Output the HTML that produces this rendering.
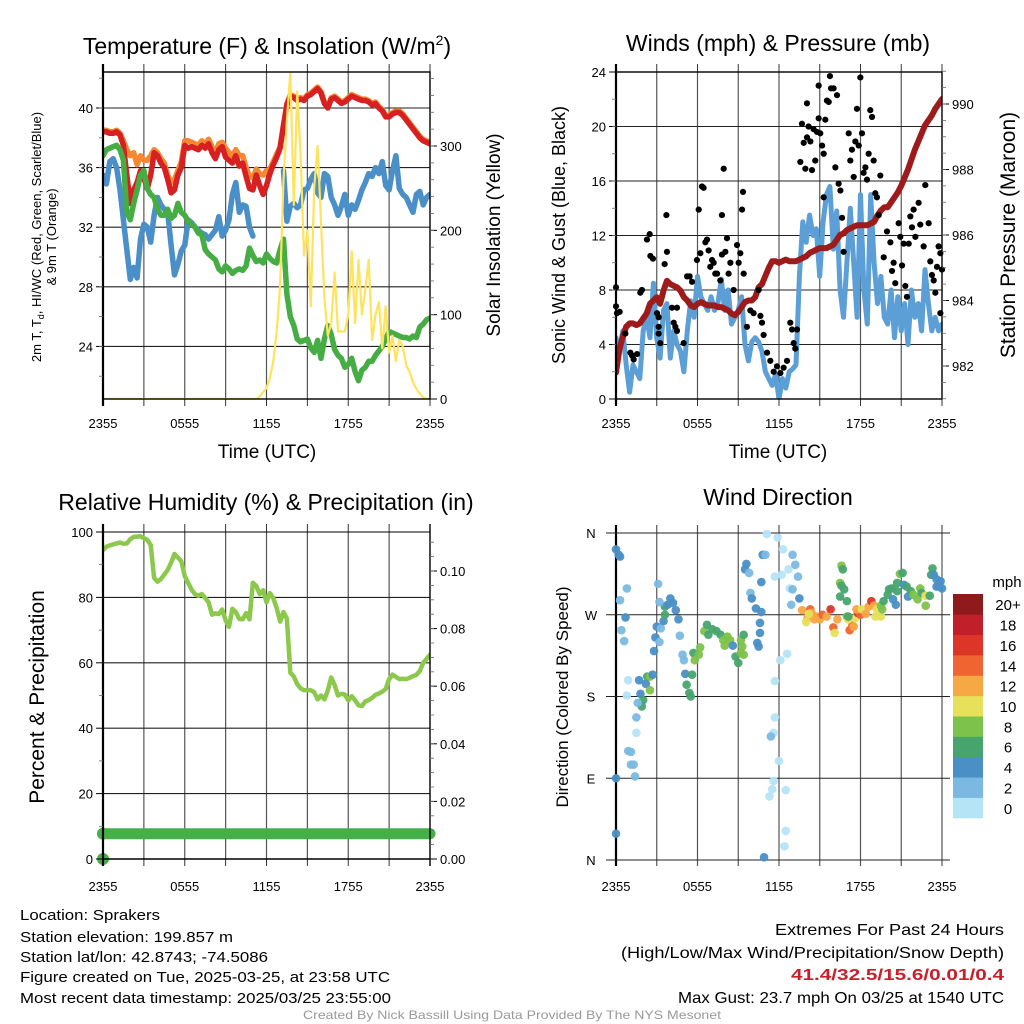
<!DOCTYPE html>
<html><head><meta charset="utf-8"><title>Mesonet Station Meteogram</title>
<style>
html,body{margin:0;padding:0;background:#fff;}
svg{display:block;font-family:"Liberation Sans",Arial,sans-serif;}
</style></head>
<body>
<svg id="fig" xmlns="http://www.w3.org/2000/svg" width="1024" height="1024" viewBox="0 0 1024 1024">
<defs>
<clipPath id="c1"><rect x="103" y="72" width="327" height="327"/></clipPath>
<clipPath id="c2"><rect x="616" y="72" width="326" height="327"/></clipPath>
<clipPath id="c3"><rect x="103" y="532" width="327" height="327"/></clipPath>
<clipPath id="c4"><rect x="610" y="527" width="338" height="338"/></clipPath>
</defs>
<rect width="1024" height="1024" fill="#fff"/>
<g id="root"></g>
<text x="267" y="54" font-size="23" text-anchor="middle">Temperature (F) &amp; Insolation (W/m<tspan dy="-9" font-size="14">2</tspan><tspan dy="9">)</tspan></text>
<text x="778" y="51" font-size="23" text-anchor="middle">Winds (mph) &amp; Pressure (mb)</text>
<text x="266" y="510" font-size="23" text-anchor="middle">Relative Humidity (%) &amp; Precipitation (in)</text>
<text x="778" y="505" font-size="23" text-anchor="middle">Wind Direction</text>
<text x="267" y="458" font-size="19" text-anchor="middle">Time (UTC)</text>
<text x="778" y="458" font-size="19" text-anchor="middle">Time (UTC)</text>
<text transform="translate(41,237) rotate(-90)" font-size="13" text-anchor="middle">2m T, T<tspan font-size="9" dy="3">d</tspan><tspan dy="-3">, HI/WC (Red, Green, Scarlet/Blue)</tspan></text>
<text transform="translate(56,237) rotate(-90)" font-size="13" text-anchor="middle">&amp; 9m T (Orange)</text>
<text transform="translate(500,235) rotate(-90)" font-size="19" text-anchor="middle">Solar Insolation (Yellow)</text>
<text transform="translate(565,235) rotate(-90)" font-size="18" text-anchor="middle">Sonic Wind &amp; Gust (Blue, Black)</text>
<text transform="translate(1015,235) rotate(-90)" font-size="21" text-anchor="middle">Station Pressure (Maroon)</text>
<text transform="translate(44,697) rotate(-90)" font-size="21" text-anchor="middle">Percent &amp; Precipitation</text>
<text transform="translate(568,697) rotate(-90)" font-size="17" text-anchor="middle">Direction (Colored By Speed)</text>
<g font-size="15">
<text x="20" y="920" textLength="140" lengthAdjust="spacingAndGlyphs">Location: Sprakers</text>
<text x="20" y="942" textLength="213" lengthAdjust="spacingAndGlyphs">Station elevation: 199.857 m</text>
<text x="20" y="962" textLength="248" lengthAdjust="spacingAndGlyphs">Station lat/lon: 42.8743; -74.5086</text>
<text x="20" y="982" textLength="370" lengthAdjust="spacingAndGlyphs">Figure created on Tue, 2025-03-25, at 23:58 UTC</text>
<text x="20" y="1003" textLength="371" lengthAdjust="spacingAndGlyphs">Most recent data timestamp: 2025/03/25 23:55:00</text>
</g>
<g font-size="16">
<text x="775" y="935" textLength="229" lengthAdjust="spacingAndGlyphs">Extremes For Past 24 Hours</text>
<text x="621" y="958" textLength="383" lengthAdjust="spacingAndGlyphs">(High/Low/Max Wind/Precipitation/Snow Depth)</text>
<text x="791" y="980" textLength="213" lengthAdjust="spacingAndGlyphs" fill="#c8202a" font-weight="bold">41.4/32.5/15.6/0.01/0.4</text>
<text x="678" y="1003" textLength="326" lengthAdjust="spacingAndGlyphs">Max Gust: 23.7 mph On 03/25 at 1540 UTC</text>
</g>
<text x="512" y="1019" font-size="12" fill="#999" text-anchor="middle" textLength="418" lengthAdjust="spacingAndGlyphs">Created By Nick Bassill Using Data Provided By The NYS Mesonet</text>
</svg>
<script>
// ---------- data ----------
const timeLabels = ["2355","0555","1155","1755","2355"];
const tempTicks = [24,28,32,36,40];
const solarTicks = [0,100,200,300];
const windTicks = [0,4,8,12,16,20,24];
const presTicks = [982,984,986,988,990];
const rhTicks = [0,20,40,60,80,100];
const precipTicks = [0.00,0.02,0.04,0.06,0.08,0.10];
const dirLabels = ["N","E","S","W","N"];
const dirTicks = [0,90,180,270,360];
const speedBins = ["0","2","4","6","8","10","12","14","16","18","20+"];
const speedColors = ["#b5e4f6","#7bb9e2","#4a8fc6","#48a46f","#7dc24b","#e7e05a","#f6a845","#ef6430","#dd3528","#c11f2a","#8f1a1c"];

// uniform samples every 0.25 h
const temp2m = [38.4,38.4,38.3,38.3,38.4,38.2,37.5,35.5,33.6,34.5,35,35.8,35.3,34.6,35.5,37,36.8,36.3,36,35.2,34.3,34.5,35.5,36,37.5,37.3,37.4,37.3,37.2,37.5,37.3,37.6,37.0,36.6,37.2,37.4,36.7,36.5,36.3,36.8,36.1,36.3,35.4,34.6,34.5,35.5,34.8,34.2,34.8,35.6,36.2,36.7,37.3,38.8,40.2,40.8,40.7,40.5,40.6,40.5,40.8,40.9,41.1,41.3,41.0,40.3,40.0,40.6,40.7,40.5,40.3,40.4,40.6,40.8,40.7,40.6,40.5,40.5,40.4,40.2,40.3,40.0,39.8,39.4,39.4,39.6,39.7,39.7,39.5,39.2,38.9,38.6,38.3,38.0,37.8,37.7,37.6];
const temp9m = [38.5,38.5,38.4,38.4,38.5,38.3,37.8,37.2,36.8,37.0,36.2,36.8,36.5,36.5,36.8,37.2,37.0,36.6,36.3,35.5,35.0,35.2,35.8,36.4,37.8,37.8,37.7,37.6,37.5,37.8,37.6,37.9,37.4,37.0,37.6,37.7,37.3,37.0,36.8,37.2,36.8,36.8,36.0,35.4,35.3,35.9,35.6,35.5,35.8,35.9,36.4,36.9,37.4,38.9,40.3,40.9,40.8,40.6,40.7,40.6,40.9,41.0,41.2,41.4,41.1,40.4,40.1,40.7,40.8,40.6,40.4,40.5,40.7,40.9,40.8,40.7,40.6,40.6,40.5,40.3,40.4,40.1,39.9,39.5,39.5,39.7,39.8,39.8,39.6,39.3,39.0,38.7,38.4,38.1,37.9,37.8,37.7];
const hiwc = [35.5,34.9,36.4,36.6,36.0,34.5,32.5,30.5,28.5,29.3,28.6,31.2,32.2,32.0,31.0,32.8,34.0,33.5,33.2,33.0,30.8,28.8,29.5,30.4,30.8,32.5,32.3,32.0,31.8,31.6,31.5,31.2,31.5,31.8,32.7,31.4,31.8,32.5,34.2,35.0,33.0,33.5,33.4,32.0,31.4,null,null,null,null,null,null,null,null,35.8,32.4,33.4,33.6,33.3,33.5,34.5,34.6,35.2,35.6,34.3,34.0,35.6,35.4,34.0,33.5,32.8,33.4,34.2,32.8,33.5,33.2,33.8,34.5,35.0,35.6,35.4,36.0,35.6,36.4,34.8,34.5,35.8,36.8,34.6,34.2,34.0,33.5,33.0,34.2,34.4,33.5,34.0,34.2];
const dewpoint = [36.8,37.2,37.3,37.4,37.5,37.2,36.5,33.0,32.5,33.6,34.5,35.5,35.8,34.6,34.2,34.0,33.2,32.8,32.8,33.2,32.6,32.8,33.6,33.0,32.8,32.4,32.2,32.0,31.6,31.5,30.5,30.2,30.0,29.8,29.2,29.0,29.4,29.2,28.9,29.1,29.2,29.1,29.4,30.6,30.1,29.7,29.8,29.6,30.2,29.9,29.7,29.6,30.5,31.2,27.5,26.0,25.4,24.5,24.3,24.4,24.5,23.9,23.6,24.4,23.2,24.5,25.4,24.8,23.8,23.4,23.2,22.6,22.8,23.2,22.3,21.7,22.4,22.6,23.0,23.0,23.4,23.7,24.0,24.5,25.0,24.9,24.8,24.7,24.6,24.6,24.5,24.7,24.6,25.3,25.5,25.8,25.9];
const solar = [0,0,0,0,0,0,0,0,0,0,0,0,0,0,0,0,0,0,0,0,0,0,0,0,0,0,0,0,0,0,0,0,0,0,0,0,0,0,0,0,0,0,0,0,0,0,3,8,13,25,45,80,135,260,330,387,230,365,290,170,200,110,250,300,210,120,75,90,150,80,80,80,100,175,90,165,100,130,165,70,100,115,60,110,55,75,45,70,62,40,32,20,12,6,2,0,0];
const windSpeed = [4.5,3.5,5,2.5,0.5,2.5,2,1.5,5,6,4.5,8.5,4.5,3,6.5,7,3,5,4,3.5,2,5,7.2,6,9,7.5,7,6.5,7.5,6.5,7,8.8,6.5,8,5.5,6,6.5,7.5,4,2.8,4.2,4.5,4.2,3.5,2,1.5,1,1.8,0,1.5,0.8,2,2.2,2.5,9,13,11.5,13.5,12,12.5,9,13,15,15.6,11,13.8,8,6,10,14,10,6,15,8,5.5,15,10,7,9,6,5.5,8,4.5,7.5,5,7,4,8,6,7,5,9.5,7,5,6,5,5.5];
const pressure = [981.8,982.5,982.9,983.2,983.3,983.3,983.25,983.3,983.45,983.6,983.9,984.0,984.1,983.9,984.3,984.6,984.5,984.45,984.4,984.3,984.1,984.0,983.85,983.8,983.9,983.95,983.9,983.85,983.85,983.85,983.8,983.8,983.75,983.7,983.6,983.55,983.65,983.8,983.95,984.0,984.0,984.1,984.4,984.5,984.75,985.0,985.2,985.2,985.15,985.2,985.25,985.2,985.2,985.2,985.25,985.3,985.35,985.45,985.5,985.55,985.6,985.6,985.6,985.65,985.7,985.85,986.0,986.05,986.15,986.2,986.25,986.3,986.3,986.3,986.3,986.35,986.4,986.6,986.75,986.85,986.85,987.0,987.15,987.3,987.5,987.75,988.0,988.3,988.6,988.85,989.1,989.35,989.5,989.65,989.85,990.0,990.15];
const rh = [94.5,95.5,95.9,96.2,96.5,96.8,96.4,96.5,97.8,98.5,98.6,98.7,98.1,97.6,96,86,84.8,85.6,87,88.4,90.6,93.3,92.2,91,86.5,84.4,82.4,81,80.5,81,79.8,78.5,74.7,75.1,74.9,76.3,73,71,76.5,75.5,73.4,73.3,75.2,73.3,84.5,83.5,81,82.2,78.5,81.3,79.8,76.7,72.6,75.5,73.5,57,55.8,53.5,52.2,51.6,51.7,51.6,51,48.8,50,48.8,51.5,55.5,53.2,50,50.5,50.3,48.5,49.8,48.5,47,46.8,48.2,48.6,49.3,50.2,50.6,51.2,52,55,56.4,55.7,55,55.1,55,55.4,55.9,56.3,57.5,60,61.2,62.5];
const precip = [0,0.0088,0.0088,0.0088,0.0088,0.0088,0.0088,0.0088,0.0088,0.0088,0.0088,0.0088,0.0088,0.0088,0.0088,0.0088,0.0088,0.0088,0.0088,0.0088,0.0088,0.0088,0.0088,0.0088,0.0088,0.0088,0.0088,0.0088,0.0088,0.0088,0.0088,0.0088,0.0088,0.0088,0.0088,0.0088,0.0088,0.0088,0.0088,0.0088,0.0088,0.0088,0.0088,0.0088,0.0088,0.0088,0.0088,0.0088,0.0088,0.0088,0.0088,0.0088,0.0088,0.0088,0.0088,0.0088,0.0088,0.0088,0.0088,0.0088,0.0088,0.0088,0.0088,0.0088,0.0088,0.0088,0.0088,0.0088,0.0088,0.0088,0.0088,0.0088,0.0088,0.0088,0.0088,0.0088,0.0088,0.0088,0.0088,0.0088,0.0088,0.0088,0.0088,0.0088,0.0088,0.0088,0.0088,0.0088,0.0088,0.0088,0.0088,0.0088,0.0088,0.0088,0.0088,0.0088,0.0088];

const gustHours = [0,0,0.07,0.27,0.69,1.06,1.18,1.3,1.55,1.79,1.91,2.28,2.48,2.53,2.72,3.02,3.14,3.14,3.14,3.26,3.58,3.71,3.75,4.12,4.25,4.37,4.49,4.49,4.98,5.23,5.42,5.6,5.96,6.09,6.21,6.33,6.45,6.58,6.7,6.82,6.94,7.07,7.19,7.31,7.44,7.68,7.8,7.93,7.8,8.05,8.17,8.29,8.42,8.66,8.91,9.03,9.15,9.28,9.35,9.4,9.64,9.89,10.13,10.5,10.63,10.75,10.87,11.12,11.36,11.61,11.85,12.1,12.34,12.59,12.83,12.96,13.08,13.2,13.33,13.57,13.69,13.82,13.94,14.06,14.06,14.18,14.31,14.43,14.55,14.67,14.8,14.92,14.92,15.04,15.17,15.29,15.29,15.41,15.53,15.66,15.75,15.83,16.02,16.15,16.27,16.39,16.52,16.64,16.76,17.13,17.25,17.37,17.5,17.62,17.74,17.87,17.99,18.11,18.23,18.36,18.48,18.6,18.72,18.85,18.97,19.09,19.21,19.34,19.46,19.71,19.95,20.2,20.32,20.44,20.56,20.81,20.93,21.06,21.18,21.3,21.42,21.55,21.67,21.79,21.91,22.04,22.28,22.4,22.65,22.77,23.02,23.14,23.26,23.39,23.51,23.63,23.75,23.88,24.0,23.88];
const gustValues = [8.2,6.8,6.3,6.4,4.8,3.4,3.2,2.9,3.3,7.8,8,11.7,12.1,10.5,10.3,6.3,6.0,5.3,4.8,4.1,9.9,13.5,10.8,6.7,5.6,5.3,6.7,5.0,4.1,9.0,9.0,8.6,10.2,13.9,10.7,15.6,15.5,11.5,11.7,10.9,9.7,10.2,10.0,9.2,9.2,8.7,13.5,16.9,10.6,10.8,11.8,9.2,10.0,8.0,11.3,10.0,10.7,13.9,15.2,9.2,5.3,6.5,6.3,8.0,6.1,5.6,4.7,3.4,2.8,2.0,2.4,1.9,2.3,2.8,5.6,5.1,4.1,3.7,5.1,17.4,20.2,18.8,16.9,21.7,19.2,20.0,18.9,16.8,19.8,17.5,19.6,23.0,20.6,19.5,18.6,18.0,14.8,20.5,21.9,21.8,23.7,22.8,22.8,17.0,22.3,15.8,15.3,13.3,10.8,19.5,17.5,18.3,16.3,18.9,21.3,18.6,23.6,19.5,16.6,17.0,16.1,18.0,21.2,20.7,17.5,15.1,14.8,13.5,16.4,10.4,12.3,11.5,9.4,10.0,8.5,12.9,11.9,9.8,11.4,8.3,7.5,11.4,13.4,12.6,13.9,11.9,14.4,12.8,11.2,15.7,12.9,10.1,9.1,8.7,7.8,9.7,11.2,10.7,9.5,6.3];

const dirHours = [0,0.2,0.3,0.8,0.3,0.7,0.4,0.6,0.9,0.8,1.7,1.8,2.2,2.3,2.5,2.5,2.0,1.9,1.6,1.5,1.5,0.9,1.1,1.1,1.3,1.4,0,0,2.7,2.8,2.9,3.0,3.2,3.3,3.5,3.6,3.6,3.8,4.0,4.2,4.4,4.6,3.1,3.2,4.7,4.9,5.0,5.1,5.6,5.2,5.4,5.5,5.7,5.8,6.1,6.2,6.5,6.7,6.8,7.1,7.4,7.7,7.9,8.0,8.2,8.4,8.6,8.8,9.0,9.2,9.3,9.4,9.2,9.4,9.6,9.5,9.8,9.9,10.0,10.3,10.4,10.5,10.6,10.6,10.7,10.7,10.8,11.0,11.1,11.7,11.9,12.2,12.3,12.7,12.8,12.9,13.0,13.0,13.2,13.4,13.5,12.1,12.6,11.7,11.7,11.6,11.4,12.0,11.6,11.5,11.3,12.5,12.5,12.4,10.9,13.7,14.1,14.3,14.4,14.6,14.8,15.0,15.2,15.5,15.8,16.0,16.1,16.3,14.0,14.2,17.2,17.4,17.5,17.6,17.8,18.0,17.7,18.1,18.4,18.6,18.8,19.0,19.1,19.5,17.0,17.1,19.2,16.6,16.7,16.5,16.6,16.8,16.5,17.0,17.1,19.5,19.6,19.7,20.0,20.1,20.3,20.6,20.4,20.7,20.7,20.9,21.1,21.2,21.4,21.5,21.7,21.9,22.2,22.4,22.5,22.8,22.8,23.1,23.3,23.2,23.4,23.6,23.8,23.9,24.0,23.6];
const dirDegrees = [342,336,334,299,286,267,253,241,198,181,198,183,194,202,202,187,176,169,173,157,140,120,119,105,105,92,90,29,204,230,245,257,240,255,263,279,270,281,288,283,275,265,304,284,247,226,220,205,204,193,184,180,228,220,226,234,252,259,248,254,252,248,242,236,246,242,236,224,217,228,235,226,242,248,326,320,316,294,288,277,239,235,250,261,273,306,336,336,359,312,355,314,342,320,299,281,298,336,325,312,288,220,227,197,157,140,136,109,87,78,70,77,32,15,3,275,266,276,272,265,268,265,270,268,276,256,250,265,262,271,253,258,257,266,272,270,276,276,271,279,285,280,268,268,268,265,276,324,320,305,302,298,290,285,268,280,276,285,292,298,299,281,287,296,305,315,316,303,301,290,296,292,287,299,294,291,280,291,321,314,314,309,301,307,299,301];
const dirSpeeds = [4.5,4.5,4.5,3,3,4.5,3,3,1,1,4.5,4.5,4.5,6.5,8.5,8.5,6.5,6.5,3,3,1,3,3,3,3,3,4.5,4.5,4.5,4.5,4.5,4.5,3,3,4.5,6.5,6.5,4.5,4.5,4.5,4.5,4.5,3,3,3,3,3,4.5,6.5,6.5,6.5,6.5,6.5,8.5,8.5,8.5,8.5,6.5,6.5,6.5,6.5,6.5,8.5,8.5,8.5,8.5,4.5,6.5,6.5,8.5,8.5,8.5,8.5,6.5,4.5,4.5,3,3,4.5,4.5,4.5,4.5,4.5,4.5,4.5,4.5,4.5,3,1,1,1,1,1,1,1,3,3,3,3,3,4.5,1,1,1,1,1,3,1,1,1,1,1,1,1,4.5,12.5,12.5,14.5,12.5,12.5,12.5,12.5,14.5,12.5,16,14.5,10.5,12.5,10.5,10.5,14.5,14.5,12.5,10.5,16,14.5,12.5,10.5,12.5,12.5,16,12.5,10.5,10.5,8.5,10.5,10.5,8.5,6.5,8.5,6.5,6.5,6.5,6.5,6.5,8.5,8.5,6.5,6.5,6.5,6.5,4.5,4.5,6.5,6.5,8.5,6.5,4.5,6.5,4.5,6.5,8.5,8.5,8.5,6.5,10.5,8.5,6.5,6.5,6.5,4.5,4.5,4.5,4.5,4.5,4.5];

// ---------- helpers ----------
const NS = "http://www.w3.org/2000/svg";
const root = document.getElementById('root');
function mk(tag, attrs, parent){
  const e = document.createElementNS(NS, tag);
  for (const k in attrs) e.setAttribute(k, attrs[k]);
  (parent||root).appendChild(e);
  return e;
}
const hours = temp2m.map((_, i) => i * 0.25);

// axis functions
const x1 = h => 103 + h * 13.625;
const x2 = h => 616 + h * 13.583;
const yTemp = v => 108 + (40 - v) * 14.9;
const ySolar = w => 399 - w * 0.8433;
const yWind = v => 399 - v * 13.625;
const yPres = p => 366 - (p - 982) * 32.75;
const yRH = v => 859 - v * 3.27;
const yPrecip = v => 859 - v * 2880;
const yDir = d => 860 - d * 0.9083;

function frame(name){
  const g = mk('g', {});
  
  
  return g;
}

function pathFrom(xs, ys, xf, yf){
  let d = '', pen = false;
  for (let i = 0; i < xs.length; i++){
    if (ys[i] === null){ pen = false; continue; }
    d += (pen ? 'L' : 'M') + xf(xs[i]).toFixed(1) + ',' + yf(ys[i]).toFixed(1);
    pen = true;
  }
  return d;
}

function drawGrid(g, left, right, top, bottom, xf, yTicksPx){
  for (let h = 3; h < 24; h += 3){
    const l = mk('line', {x1: xf(h), x2: xf(h), y1: top, y2: bottom, stroke: '#555', 'stroke-width': 1.2}, g);
    
    
  }
  for (let h = 0; h <= 24; h += 3){
    mk('line', {x1: xf(h), x2: xf(h), y1: top - 8, y2: top, stroke: '#333', 'stroke-width': 1}, g);
    mk('line', {x1: xf(h), x2: xf(h), y1: bottom, y2: bottom + 7, stroke: '#333', 'stroke-width': 1}, g);
  }
  yTicksPx.forEach(py => {
    const l = mk('line', {x1: left, x2: right, y1: py, y2: py, stroke: '#222', 'stroke-width': 1.1}, g);
    
    
  });
}
function drawBorder(g, left, right, top, bottom){
  mk('rect', {x: left, y: top, width: right - left, height: bottom - top, fill: 'none', stroke: '#000', 'stroke-width': 1.4}, g);
  mk('line', {x1: left, x2: left, y1: top - 8, y2: bottom + 7, stroke: '#000', 'stroke-width': 2.2}, g);
}
function xLabels(g, xf, y){
  timeLabels.forEach((t, i) => {
    const tx = mk('text', {x: xf(i * 6), y: y, 'font-size': 13, 'text-anchor': 'middle'}, g);
    tx.textContent = t;
    
    
  });
}
function yAxisTicks(g, vals, yf, xEdge, side, fmt, fs, minorVals){
  vals.forEach(v => {
    const py = yf(v);
    const dir = side === 'left' ? -1 : 1;
    mk('line', {x1: xEdge, x2: xEdge + dir * 7, y1: py, y2: py, stroke: '#000', 'stroke-width': 1}, g);
    const tx = mk('text', {x: xEdge + dir * 10, y: py + 5, 'font-size': fs, 'text-anchor': side === 'left' ? 'end' : 'start'}, g);
    tx.textContent = fmt(v);
    
    
  });
  (minorVals || []).forEach(v => {
    const py = yf(v);
    const dir = side === 'left' ? -1 : 1;
    mk('line', {x1: xEdge, x2: xEdge + dir * 4, y1: py, y2: py, stroke: '#666', 'stroke-width': 0.8}, g);
  });
}
function range(a, b, s){ const r = []; for (let v = a; v <= b + 1e-9; v += s) r.push(+v.toFixed(4)); return r; }

// ---------- Panel 1: temperature ----------
const g1 = frame('temperature-panel');
drawGrid(g1, 103, 430, 72, 399, x1, tempTicks.map(yTemp));
const s1 = mk('g', {'clip-path': 'url(#c1)'}, g1);
[[temp9m, '#f58833', 'nine-meter-temperature-line'], [hiwc, '#4a8fc8', 'heat-index-wind-chill-line'], [temp2m, '#d62022', 'two-meter-temperature-line'], [dewpoint, '#45ad44', 'dewpoint-line']].forEach(sr => {
  const p = mk('path', {d: pathFrom(hours, sr[0], x1, yTemp), fill: 'none', stroke: sr[1], 'stroke-width': 5.5, 'stroke-linejoin': 'round', 'stroke-linecap': 'round'}, s1);
  
  
});
const solarLine = mk('path', {d: pathFrom(hours, solar, x1, ySolar), fill: 'none', stroke: '#ffe35c', 'stroke-width': 2.2, 'stroke-linejoin': 'round'}, s1);


drawBorder(g1, 103, 430, 72, 399);
yAxisTicks(g1, tempTicks, yTemp, 103, 'left', v => v, 13, range(22, 42, 2));
yAxisTicks(g1, solarTicks, ySolar, 430, 'right', v => v, 13, range(20, 380, 20));
xLabels(g1, x1, 428);

// ---------- Panel 2: winds & pressure ----------
const g2 = frame('wind-panel');
drawGrid(g2, 616, 942, 72, 399, x2, windTicks.slice(1, -1).map(yWind));
const s2 = mk('g', {'clip-path': 'url(#c2)'}, g2);
const wl = mk('path', {d: pathFrom(hours, windSpeed, x2, yWind), fill: 'none', stroke: '#5b9fd6', 'stroke-width': 5, 'stroke-linejoin': 'round', 'stroke-linecap': 'round'}, s2);


const gustGroup = mk('g', {}, g2);


gustHours.forEach((h, i) => {
  const c = mk('circle', {cx: x2(h), cy: yWind(gustValues[i]), r: 3.1, fill: '#000'}, gustGroup);
  
  
});
const pl = mk('path', {d: pathFrom(hours, pressure, x2, yPres), fill: 'none', stroke: '#9e1b1b', 'stroke-width': 6, 'stroke-linejoin': 'round', 'stroke-linecap': 'round'}, s2);


drawBorder(g2, 616, 942, 72, 399);
yAxisTicks(g2, windTicks, yWind, 616, 'left', v => v, 13, range(2, 22, 2));
yAxisTicks(g2, presTicks, yPres, 942, 'right', v => v, 13, range(981, 991, 0.5));
xLabels(g2, x2, 428);

// ---------- Panel 3: RH & precipitation ----------
const g3 = frame('humidity-panel');
drawGrid(g3, 103, 430, 532, 859, x1, rhTicks.slice(1, -1).map(yRH));
mk('line', {x1: 103, x2: 430, y1: 532, y2: 532, stroke: '#000'}, g3);
const s3 = mk('g', {'clip-path': 'url(#c3)'}, g3);
const rl = mk('path', {d: pathFrom(hours, rh, x1, yRH), fill: 'none', stroke: '#8cc84b', 'stroke-width': 4.5, 'stroke-linejoin': 'round', 'stroke-linecap': 'round'}, s3);


const prl = mk('path', {d: pathFrom(hours.slice(1), precip.slice(1), x1, yPrecip), fill: 'none', stroke: '#45b048', 'stroke-width': 11, 'stroke-linecap': 'round'}, g3);


const pd0 = mk('circle', {cx: x1(hours[0]), cy: yPrecip(precip[0]), r: 6, fill: '#45b048'}, g3);


mk('circle', {cx: x1(hours[0]), cy: yPrecip(precip[1]), r: 6, fill: '#45b048'}, g3);
mk('line', {x1: 103, x2: 103, y1: 524, y2: 866, stroke: '#000', 'stroke-width': 2.2}, g3);
mk('line', {x1: 430, x2: 430, y1: 524, y2: 866, stroke: '#000', 'stroke-width': 1.4}, g3);
mk('line', {x1: 103, x2: 430, y1: 859, y2: 859, stroke: '#000', 'stroke-width': 1.4}, g3);
yAxisTicks(g3, rhTicks, yRH, 103, 'left', v => v, 13, range(10, 90, 20));
yAxisTicks(g3, precipTicks, yPrecip, 430, 'right', v => v.toFixed(2), 13, range(0.005, 0.11, 0.005));
xLabels(g3, x1, 891);

// ---------- Panel 4: wind direction ----------
const g4 = frame('direction-panel');
for (let h = 3; h < 24; h += 3){
  const l = mk('line', {x1: x2(h), x2: x2(h), y1: 525, y2: 866, stroke: '#555', 'stroke-width': 1.2}, g4);
  
  
}
mk('line', {x1: 616, x2: 616, y1: 525, y2: 866, stroke: '#000', 'stroke-width': 2.2}, g4);
mk('line', {x1: 942, x2: 942, y1: 525, y2: 866, stroke: '#555', 'stroke-width': 1.2}, g4);
dirTicks.forEach((d, i) => {
  const py = yDir(d);
  const l = mk('line', {x1: 606, x2: 950, y1: py, y2: py, stroke: '#222', 'stroke-width': 1.1}, g4);
  
  
  const tx = mk('text', {x: 591, y: py + 5, 'font-size': 13, 'text-anchor': 'middle'}, g4);
  tx.textContent = dirLabels[i];
  
  
});
const s4 = mk('g', {'clip-path': 'url(#c4)'}, g4);
dirHours.forEach((h, i) => {
  const bin = Math.min(10, Math.floor(dirSpeeds[i] / 2));
  const c = mk('circle', {cx: x2(h), cy: yDir(dirDegrees[i]), r: 4.3, fill: speedColors[bin], 'fill-opacity': 0.95}, s4);
  
  
});
xLabels(g4, x2, 891);

// colorbar
const cb = mk('g', {}, root);


const binH = (818 - 594) / speedBins.length;
speedBins.forEach((lab, i) => {
  const top = 818 - (i + 1) * binH;
  const r = mk('rect', {x: 953, y: top, width: 30, height: binH + 0.3, fill: speedColors[i]}, cb);
  
  
  const t = mk('text', {x: 1008, y: top + binH / 2 + 6, 'font-size': 15, 'text-anchor': 'middle'}, cb);
  t.textContent = lab;
  
  
});
const mph = mk('text', {x: 1007, y: 587, 'font-size': 15, 'text-anchor': 'middle'}, cb);
mph.textContent = 'mph';


</script>
</body></html>
